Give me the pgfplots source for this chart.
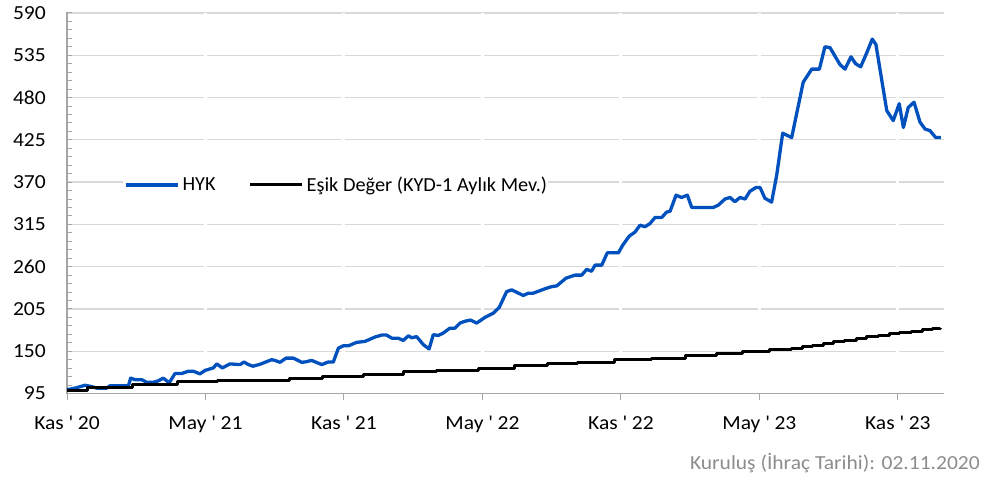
\documentclass[border=0pt]{standalone}
\usepackage{fontspec}
\setmainfont{Carlito}[FakeStretch=1.08]
\newfontfamily\legfont{Carlito}[FakeStretch=1.02]
\usepackage{pgfplots}
\pgfplotsset{compat=1.18}
\definecolor{hyk}{RGB}{0,80,190}
\definecolor{gridc}{RGB}{217,217,217}
\definecolor{axc}{RGB}{166,166,166}
\definecolor{footc}{RGB}{140,140,140}
\begin{document}
\begin{tikzpicture}
\path[use as bounding box] (-67bp,-86.5bp) rectangle (925bp,393.5bp);
\begin{axis}[
  scale only axis, width=877bp, height=380.5bp,
  xmin=0, xmax=38, ymin=95, ymax=590,
  axis x line*=bottom, axis y line*=left,
  axis line style={axc, line width=1.2bp},
  xtick={0,6,12,18,24,30,36},
  xticklabels={Kas \textquotesingle{} 20, May \textquotesingle{} 21, Kas \textquotesingle{} 21, May \textquotesingle{} 22, Kas \textquotesingle{} 22, May \textquotesingle{} 23, Kas \textquotesingle{} 23},
  ytick={95,150,205,260,315,370,425,480,535,590},
  minor y tick num=4,
  ymajorgrids, grid style={gridc, line width=1.3bp},
  tick align=outside,
  major tick length=6bp, minor tick length=5bp,
  tick style={axc, line width=1bp},
  ytick style={xshift=5bp},
  /pgf/number format/assume math mode=true,
  yticklabel style={font=\fontsize{20}{24}\selectfont, inner sep=0pt, xshift=-15bp},
  xticklabel style={font=\fontsize{20}{24}\selectfont, inner sep=0pt, anchor=north, yshift=-16bp},
  legend columns=2,
  legend image code/.code={\draw[#1] (0bp,0bp) -- (52bp,0bp);},
  legend style={at={(axis description cs:0.0639,0.548)}, anchor=west, draw=none, fill=white,
    inner xsep=1bp, inner ysep=2bp, font=\legfont\fontsize{20}{24}\selectfont,
    nodes={inner sep=0pt},
    /tikz/every odd column/.append style={column sep=3bp},
    /tikz/every even column/.append style={column sep=33bp}},
  clip=false,
]
\draw[white, line width=3bp] (axis cs:6,96.5) -- (axis cs:6,590);
\draw[white, line width=3bp] (axis cs:12,96.5) -- (axis cs:12,590);
\draw[white, line width=3bp] (axis cs:18,96.5) -- (axis cs:18,590);
\draw[white, line width=3bp] (axis cs:24,96.5) -- (axis cs:24,590);
\draw[white, line width=3bp] (axis cs:30,96.5) -- (axis cs:30,590);
\draw[white, line width=3bp] (axis cs:36,96.5) -- (axis cs:36,590);
\addplot[hyk, line width=3.3bp, line join=round] coordinates {
(0,100) (0.35,102) (0.78,105.7) (1.07,104) (1.29,102) (1.72,102) (1.86,105) (2.66,105) (2.76,115) (2.95,113) (3.24,113) (3.45,109.6) (3.74,109.6) (3.96,111.5) (4.17,115) (4.43,109) (4.68,121) (4.97,121) (5.26,124) (5.47,124) (5.76,120.5) (5.98,125) (6.34,128.3) (6.49,133.5) (6.73,128.3) (7.06,133.5) (7.50,132.6) (7.67,136) (7.86,132.6) (8.06,130.5) (8.36,133) (8.87,139) (9.01,138) (9.23,135.6) (9.49,141) (9.81,141) (10.17,135.6) (10.31,136) (10.60,138) (11.04,132.6) (11.32,136) (11.54,136) (11.76,154) (11.97,157) (12.19,157) (12.55,161.5) (12.91,162.8) (13.35,168.5) (13.64,171) (13.85,171) (14.07,167) (14.35,167) (14.57,164) (14.79,170) (14.94,167.5) (15.15,169) (15.44,158.5) (15.69,153) (15.87,171.5) (16.09,170.5) (16.30,173.6) (16.59,180) (16.81,180) (17.03,186.6) (17.24,189) (17.49,190.5) (17.75,186.6) (18.11,194) (18.47,199.5) (18.73,207) (18.90,218) (19.05,227.6) (19.27,229.8) (19.77,222.5) (19.99,225.5) (20.20,225.5) (20.78,232) (21.00,234) (21.22,235) (21.36,238.5) (21.62,245) (22.01,249) (22.30,249) (22.52,256.5) (22.73,254) (22.88,262) (23.17,262) (23.41,278) (23.89,278) (24.08,288) (24.36,299.7) (24.61,305) (24.83,314) (25.04,312) (25.26,316) (25.48,324) (25.77,324) (25.98,331) (26.13,332) (26.39,353) (26.63,350) (26.88,353) (27.07,337) (28.00,337) (28.22,340) (28.51,348) (28.73,350) (28.94,344.5) (29.16,350) (29.38,348) (29.59,358) (29.85,363) (30.03,363) (30.24,349) (30.53,344) (30.75,378.8) (31.01,433.6) (31.40,428) (31.90,500) (32.27,517) (32.60,517) (32.84,546) (33.06,545) (33.49,523) (33.71,517) (33.97,533) (34.17,524) (34.39,520) (34.65,538) (34.89,556) (35.05,549) (35.52,463) (35.80,450) (36.06,472) (36.24,441) (36.45,467) (36.70,474) (36.96,448) (37.18,439) (37.39,437) (37.64,428) (37.86,428)
};
\addlegendentry{HYK}
\addplot[black, line width=3bp, const plot, line join=round] coordinates {
(0,99.5) (0.87,103) (2.82,106.5) (4.77,110) (6.50,112) (9.66,114) (11.09,117) (12.83,119.6) (14.56,123) (16.03,125.5) (17.81,128) (19.41,131) (20.80,133.5) (22.14,135.6) (23.74,139) (25.33,141) (26.78,144) (28.15,146.8) (29.29,149) (30.46,152) (31.40,154) (31.89,156) (32.32,158) (32.76,160.5) (33.23,162.5) (33.71,164.5) (34.19,167) (34.66,169) (35.14,171) (35.62,172.7) (36.09,174.5) (36.57,176) (37.05,178) (37.52,179.5) (37.86,180)
};
\addlegendentry{Eşik Değer (KYD-1 Aylık Mev.)}
\end{axis}
\node[anchor=base east, text=footc, font=\fontsize{20}{24}\selectfont, inner sep=0pt] at (913bp,-76bp) {Kuruluş (İhraç Tarihi): 02.11.2020};
\end{tikzpicture}
\end{document}
